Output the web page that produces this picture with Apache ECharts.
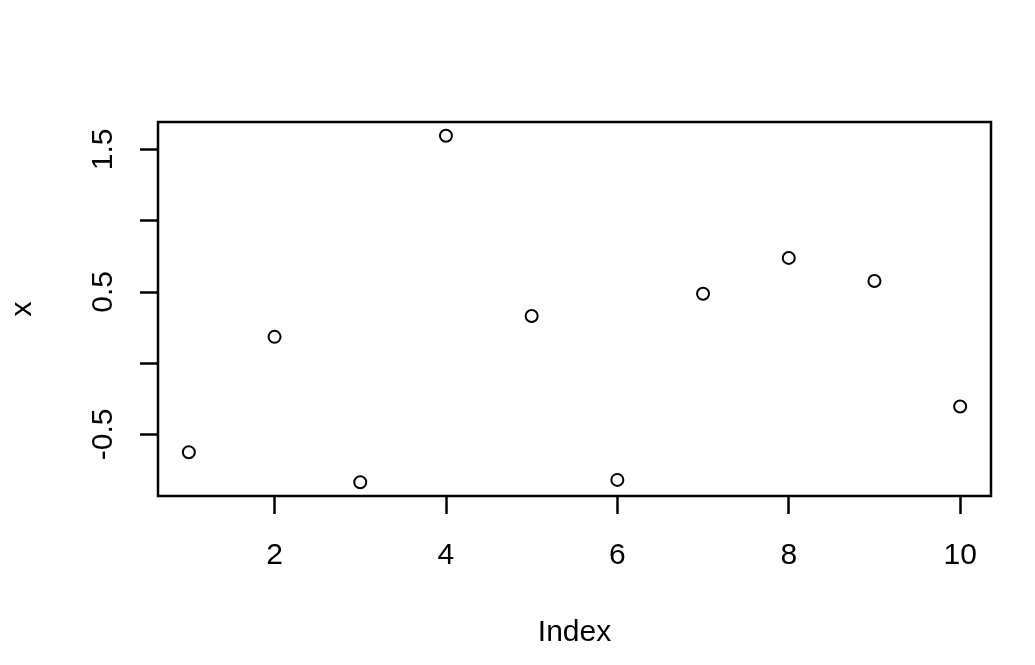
<!DOCTYPE html>
<html>
<head>
<meta charset="utf-8">
<script src="https://cdn.jsdelivr.net/npm/echarts@6/dist/echarts.min.js"></script>
<style>html,body{margin:0;padding:0;background:#fff}#c{width:1035px;height:665px}</style>
</head>
<body>
<div id="c"></div>
<script>
const indexValues = [1, 2, 3, 4, 5, 6, 7, 8, 9, 10];
const xValues = [-0.626, 0.184, -0.836, 1.595, 0.330, -0.820, 0.487, 0.738, 0.576, -0.305];
const xTicks = [2, 4, 6, 8, 10];
const yTicks = [-0.5, 0, 0.5, 1.0, 1.5];
const yTickLabels = [-0.5, 0.5, 1.5];

const font = 'Liberation Sans, Arial, sans-serif';
const chart = echarts.init(document.getElementById('c'));
chart.setOption({
  animation: false,
  backgroundColor: '#fff',
  grid: { left: 157, right: 44, top: 122, bottom: 169, show: true, borderColor: '#000', borderWidth: 2.5, backgroundColor: 'transparent' },
  xAxis: {
    type: 'value', min: 0.64, max: 10.36,
    name: 'Index', nameLocation: 'middle', nameGap: 122,
    nameTextStyle: { color: '#000', fontSize: 30, fontFamily: font },
    axisLine: { show: false, onZero: false },
    splitLine: { show: false },
    axisTick: { show: true, customValues: xTicks, length: 18, lineStyle: { color: '#000', width: 2.5 } },
    axisLabel: { customValues: xTicks, color: '#000', fontSize: 30, fontFamily: font, margin: 45 }
  },
  yAxis: {
    type: 'value', min: -0.933, max: 1.692,
    name: 'x', nameLocation: 'middle', nameGap: 120, nameRotate: 90,
    nameTextStyle: { color: '#000', fontSize: 30, fontFamily: font },
    axisLine: { show: false, onZero: false },
    splitLine: { show: false },
    axisTick: { show: true, customValues: yTicks, length: 18, lineStyle: { color: '#000', width: 2.5 } },
    axisLabel: { customValues: yTickLabels, rotate: 90, color: '#000', fontSize: 30, fontFamily: font, margin: 39,
      formatter: v => String(v) }
  },
  series: [{
    type: 'scatter',
    data: indexValues.map((i, k) => [i, xValues[k]]),
    symbol: 'emptyCircle', symbolSize: 12,
    itemStyle: { color: '#000', borderColor: '#000', borderWidth: 2.5, opacity: 1 }
  }]
});
</script>
</body>
</html>
